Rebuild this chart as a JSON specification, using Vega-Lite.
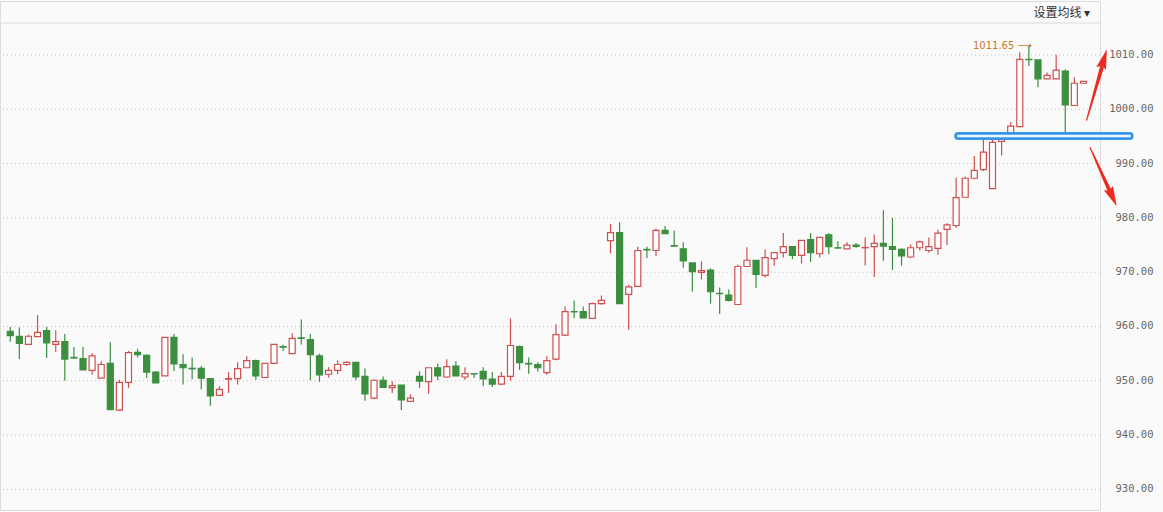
{
  "$schema": "https://vega.github.io/schema/vega-lite/v6.json",
  "width": 1100,
  "height": 509,
  "autosize": {"type": "none"},
  "padding": {"left": 0, "top": 1, "right": 63, "bottom": 2},
  "background": "#fafafa",
  "config": {"view": {"stroke": "#dddddd", "strokeWidth": 1}},
  "datasets": {
    "candles": [
      {"i":1,"o":959.1,"h":959.9,"l":957.2,"c":958.3},
      {"i":2,"o":958.2,"h":959.8,"l":954.0,"c":956.9},
      {"i":3,"o":956.7,"h":958.5,"l":956.6,"c":958.2},
      {"i":4,"o":958.15,"h":962.1,"l":958.1,"c":958.9},
      {"i":5,"o":959.25,"h":959.9,"l":954.2,"c":957.0},
      {"i":6,"o":956.7,"h":959.3,"l":955.3,"c":957.2},
      {"i":7,"o":957.2,"h":958.6,"l":950.0,"c":954.0},
      {"i":8,"o":954.3,"h":956.2,"l":954.1,"c":954.2},
      {"i":9,"o":954.1,"h":956.2,"l":952.0,"c":952.0},
      {"i":10,"o":951.9,"h":955.1,"l":951.1,"c":954.6},
      {"i":11,"o":950.5,"h":953.6,"l":950.5,"c":953.0},
      {"i":12,"o":953.2,"h":957.1,"l":944.7,"c":944.7},
      {"i":13,"o":944.6,"h":950.2,"l":944.5,"c":949.7},
      {"i":14,"o":949.7,"h":955.5,"l":948.7,"c":955.2},
      {"i":15,"o":955.25,"h":955.9,"l":954.3,"c":954.8},
      {"i":16,"o":954.7,"h":954.9,"l":950.5,"c":951.6},
      {"i":17,"o":951.6,"h":951.75,"l":949.6,"c":949.6},
      {"i":18,"o":950.9,"h":958.0,"l":950.9,"c":958.0},
      {"i":19,"o":958.0,"h":958.6,"l":951.8,"c":953.1},
      {"i":20,"o":953.0,"h":954.9,"l":949.3,"c":952.4},
      {"i":21,"o":952.3,"h":954.3,"l":950.3,"c":952.2},
      {"i":22,"o":952.3,"h":952.7,"l":948.4,"c":950.5},
      {"i":23,"o":950.4,"h":950.4,"l":945.4,"c":947.2},
      {"i":24,"o":947.3,"h":949.0,"l":947.3,"c":948.4},
      {"i":25,"o":950.3,"h":951.6,"l":947.75,"c":950.4},
      {"i":26,"o":950.4,"h":953.4,"l":949.3,"c":952.25},
      {"i":27,"o":952.4,"h":954.5,"l":952.4,"c":953.7},
      {"i":28,"o":953.7,"h":953.9,"l":950.2,"c":950.9},
      {"i":29,"o":950.6,"h":953.2,"l":950.6,"c":953.2},
      {"i":30,"o":953.2,"h":956.7,"l":953.2,"c":956.7},
      {"i":31,"o":956.3,"h":956.7,"l":955.5,"c":956.2},
      {"i":32,"o":955.0,"h":958.75,"l":955.0,"c":957.8},
      {"i":33,"o":957.9,"h":961.3,"l":956.7,"c":957.8},
      {"i":34,"o":957.6,"h":958.6,"l":950.1,"c":954.8},
      {"i":35,"o":954.6,"h":955.0,"l":949.8,"c":951.1},
      {"i":36,"o":951.2,"h":952.5,"l":950.6,"c":951.9},
      {"i":37,"o":951.9,"h":953.8,"l":951.2,"c":953.0},
      {"i":38,"o":953.0,"h":953.6,"l":952.7,"c":953.4},
      {"i":39,"o":953.4,"h":953.4,"l":950.1,"c":950.7},
      {"i":40,"o":950.8,"h":952.25,"l":946.3,"c":947.6},
      {"i":41,"o":946.8,"h":950.3,"l":946.6,"c":950.1},
      {"i":42,"o":950.1,"h":950.8,"l":948.75,"c":948.8},
      {"i":43,"o":948.75,"h":949.9,"l":947.75,"c":949.1},
      {"i":44,"o":949.2,"h":949.2,"l":944.6,"c":946.5},
      {"i":45,"o":946.2,"h":947.5,"l":946.2,"c":946.8},
      {"i":46,"o":950.8,"h":951.75,"l":948.7,"c":949.95},
      {"i":47,"o":949.85,"h":952.4,"l":947.6,"c":952.4},
      {"i":48,"o":952.4,"h":953.2,"l":950.15,"c":950.9},
      {"i":49,"o":950.7,"h":953.95,"l":950.5,"c":952.6},
      {"i":50,"o":952.7,"h":953.6,"l":950.9,"c":950.9},
      {"i":51,"o":950.7,"h":952.5,"l":950.15,"c":951.3},
      {"i":52,"o":951.3,"h":951.3,"l":950.5,"c":951.25},
      {"i":53,"o":951.75,"h":952.5,"l":949.0,"c":950.35},
      {"i":54,"o":950.3,"h":951.6,"l":948.85,"c":949.4},
      {"i":55,"o":949.4,"h":951.6,"l":949.2,"c":950.8},
      {"i":56,"o":950.8,"h":961.5,"l":950.0,"c":956.5},
      {"i":57,"o":956.3,"h":956.5,"l":952.0,"c":953.35},
      {"i":58,"o":953.2,"h":954.3,"l":951.3,"c":953.1},
      {"i":59,"o":953.0,"h":953.4,"l":951.7,"c":952.4},
      {"i":60,"o":951.5,"h":954.5,"l":951.1,"c":953.7},
      {"i":61,"o":954.0,"h":960.4,"l":953.8,"c":958.5},
      {"i":62,"o":958.4,"h":963.7,"l":958.25,"c":962.75},
      {"i":63,"o":962.75,"h":964.8,"l":961.5,"c":962.7},
      {"i":64,"o":962.75,"h":963.7,"l":961.6,"c":961.6},
      {"i":65,"o":961.5,"h":964.4,"l":961.5,"c":964.2},
      {"i":66,"o":964.2,"h":965.7,"l":964.0,"c":964.8},
      {"i":67,"o":975.8,"h":978.9,"l":973.45,"c":977.3},
      {"i":68,"o":977.3,"h":979.2,"l":964.2,"c":964.2},
      {"i":69,"o":965.9,"h":967.7,"l":959.4,"c":967.3},
      {"i":70,"o":967.4,"h":974.7,"l":967.4,"c":974.0},
      {"i":71,"o":974.2,"h":974.7,"l":972.6,"c":974.1},
      {"i":72,"o":974.0,"h":978.05,"l":973.0,"c":977.7},
      {"i":73,"o":977.7,"h":978.5,"l":977.1,"c":977.1},
      {"i":74,"o":974.9,"h":977.7,"l":974.8,"c":974.8},
      {"i":75,"o":974.3,"h":975.5,"l":970.8,"c":972.1},
      {"i":76,"o":971.7,"h":971.7,"l":966.4,"c":970.1},
      {"i":77,"o":969.95,"h":972.0,"l":968.65,"c":970.3},
      {"i":78,"o":970.4,"h":970.7,"l":964.2,"c":966.4},
      {"i":79,"o":966.1,"h":967.2,"l":962.3,"c":966.05},
      {"i":80,"o":965.8,"h":966.8,"l":964.6,"c":964.8},
      {"i":81,"o":964.05,"h":971.4,"l":964.05,"c":971.05},
      {"i":82,"o":971.05,"h":974.6,"l":971.05,"c":972.2},
      {"i":83,"o":972.2,"h":972.2,"l":967.1,"c":969.6},
      {"i":84,"o":969.4,"h":974.2,"l":969.0,"c":972.7},
      {"i":85,"o":972.5,"h":973.6,"l":971.2,"c":973.6},
      {"i":86,"o":973.6,"h":977.2,"l":972.7,"c":974.7},
      {"i":87,"o":974.7,"h":974.7,"l":972.4,"c":973.1},
      {"i":88,"o":973.1,"h":975.85,"l":971.6,"c":975.85},
      {"i":89,"o":976.0,"h":977.2,"l":971.9,"c":973.6},
      {"i":90,"o":973.4,"h":976.4,"l":972.7,"c":976.4},
      {"i":91,"o":976.9,"h":977.2,"l":973.3,"c":974.7},
      {"i":92,"o":974.5,"h":975.7,"l":974.3,"c":974.45},
      {"i":93,"o":974.3,"h":975.5,"l":974.3,"c":975.0},
      {"i":94,"o":975.0,"h":975.4,"l":974.5,"c":974.75},
      {"i":95,"o":974.5,"h":976.4,"l":971.25,"c":974.55},
      {"i":96,"o":974.7,"h":976.95,"l":969.1,"c":975.3},
      {"i":97,"o":975.3,"h":981.4,"l":972.1,"c":974.8},
      {"i":98,"o":974.7,"h":980.0,"l":970.4,"c":974.2},
      {"i":99,"o":974.2,"h":974.4,"l":971.2,"c":973.0},
      {"i":100,"o":972.8,"h":975.1,"l":972.6,"c":974.5},
      {"i":101,"o":974.5,"h":975.8,"l":974.0,"c":975.6},
      {"i":102,"o":974.0,"h":976.4,"l":973.6,"c":974.7},
      {"i":103,"o":974.4,"h":977.8,"l":973.2,"c":977.2},
      {"i":104,"o":977.9,"h":979.0,"l":975.0,"c":978.7},
      {"i":105,"o":978.6,"h":987.45,"l":978.2,"c":983.75},
      {"i":106,"o":983.8,"h":987.6,"l":983.8,"c":987.3},
      {"i":107,"o":987.3,"h":991.4,"l":987.1,"c":988.75},
      {"i":108,"o":988.9,"h":994.6,"l":988.6,"c":992.1},
      {"i":109,"o":985.4,"h":995.4,"l":985.4,"c":993.9},
      {"i":110,"o":994.1,"h":995.4,"l":991.5,"c":995.4},
      {"i":111,"o":995.4,"h":997.6,"l":995.25,"c":996.9},
      {"i":112,"o":996.8,"h":1010.5,"l":996.7,"c":1009.2},
      {"i":113,"o":1009.2,"h":1011.65,"l":1008.0,"c":1009.15},
      {"i":114,"o":1009.1,"h":1009.1,"l":1004.05,"c":1005.6},
      {"i":115,"o":1005.6,"h":1006.8,"l":1005.6,"c":1006.25},
      {"i":116,"o":1005.6,"h":1010.05,"l":1005.6,"c":1007.2},
      {"i":117,"o":1007.05,"h":1007.4,"l":994.95,"c":1000.8},
      {"i":118,"o":1000.7,"h":1005.9,"l":1000.7,"c":1004.8},
      {"i":119,"o":1004.8,"h":1005.15,"l":1004.8,"c":1005.15}
    ],
    "ticks": [
      {"p": 930, "i": 126.7},
      {"p": 940, "i": 126.7},
      {"p": 950, "i": 126.7},
      {"p": 960, "i": 126.7},
      {"p": 970, "i": 126.7},
      {"p": 980, "i": 126.7},
      {"p": 990, "i": 126.7},
      {"p": 1000, "i": 126.7},
      {"p": 1010, "i": 126.7}
    ],
    "topline": [{"p": 1015.9}],
    "band": [{"i": 105.23, "i2": 124.08, "p": 995.07}],
    "price": [{"i": 106.85, "p": 1011.65, "t": "1011.65 ⟶"}],
    "header": [{"i": 113.5, "p": 1017.74, "t": "设置均线 ▾"}],
    "shafts": [
      {"a": "up", "k": 1, "i": 119.35, "p": 998.0, "w": 1.2},
      {"a": "up", "k": 2, "i": 121.0, "p": 1007.6, "w": 4},
      {"a": "down", "k": 1, "i": 119.73, "p": 992.95, "w": 1.2},
      {"a": "down", "k": 2, "i": 121.9, "p": 984.9, "w": 4}
    ],
    "heads": [
      {"a": "up", "i": 121.26, "p": 1009.3, "ang": 16.5},
      {"a": "down", "i": 122.2, "p": 983.8, "ang": 155.5}
    ]
  },
  "layer": [
    {
      "data": {"name": "topline"},
      "mark": {"type": "rule", "color": "#dddddd", "strokeWidth": 1},
      "encoding": {
        "y": {"field": "p", "type": "quantitative", "scale": {"domain": [926.2, 1019.95], "nice": false, "zero": false}, "axis": null}
      }
    },
    {
      "data": {"name": "ticks"},
      "mark": {"type": "rule", "color": "#c4c4c4", "strokeWidth": 1, "strokeDash": [1, 3]},
      "encoding": {
        "y": {"field": "p", "type": "quantitative", "scale": {"domain": [926.2, 1019.95], "nice": false, "zero": false}, "axis": null}
      }
    },
    {
      "data": {"name": "ticks"},
      "mark": {"type": "text", "align": "right", "baseline": "middle", "font": "DejaVu Sans Mono", "fontSize": 10.5, "color": "#666666"},
      "encoding": {
        "x": {"field": "i", "type": "quantitative", "scale": {"domain": [0.4225, 120.27], "nice": false, "zero": false}, "axis": null},
        "y": {"field": "p", "type": "quantitative", "scale": {"domain": [926.2, 1019.95], "nice": false, "zero": false}, "axis": null},
        "text": {"field": "p", "type": "quantitative", "format": ".2f"}
      }
    },
    {
      "data": {"name": "candles"},
      "mark": {"type": "rule", "strokeWidth": 1.2},
      "encoding": {
        "x": {"field": "i", "type": "quantitative", "scale": {"domain": [0.4225, 120.27], "nice": false, "zero": false}, "axis": null},
        "y": {"field": "l", "type": "quantitative", "scale": {"domain": [926.2, 1019.95], "nice": false, "zero": false}, "axis": null},
        "y2": {"field": "h"},
        "color": {"condition": {"test": "datum.c >= datum.o", "value": "#d04f4f"}, "value": "#3b8f3f"}
      }
    },
    {
      "data": {"name": "candles"},
      "mark": {"type": "bar", "size": 6, "strokeWidth": 1.2},
      "encoding": {
        "x": {"field": "i", "type": "quantitative", "scale": {"domain": [0.4225, 120.27], "nice": false, "zero": false}, "axis": null},
        "y": {"field": "o", "type": "quantitative", "scale": {"domain": [926.2, 1019.95], "nice": false, "zero": false}, "axis": null},
        "y2": {"field": "c"},
        "fill": {"condition": {"test": "datum.c >= datum.o", "value": "#fdfdfd"}, "value": "#3b8f3f"},
        "stroke": {"condition": {"test": "datum.c >= datum.o", "value": "#d04f4f"}, "value": "#3b8f3f"}
      }
    },
    {
      "data": {"name": "band"},
      "mark": {"type": "rule", "color": "#3497ea", "strokeWidth": 8, "strokeCap": "round"},
      "encoding": {
        "x": {"field": "i", "type": "quantitative", "scale": {"domain": [0.4225, 120.27], "nice": false, "zero": false}, "axis": null},
        "x2": {"field": "i2"},
        "y": {"field": "p", "type": "quantitative", "scale": {"domain": [926.2, 1019.95], "nice": false, "zero": false}, "axis": null}
      }
    },
    {
      "data": {"name": "band"},
      "mark": {"type": "rule", "color": "#eef6fd", "strokeWidth": 2.5, "strokeCap": "round"},
      "encoding": {
        "x": {"field": "i", "type": "quantitative", "scale": {"domain": [0.4225, 120.27], "nice": false, "zero": false}, "axis": null},
        "x2": {"field": "i2"},
        "y": {"field": "p", "type": "quantitative", "scale": {"domain": [926.2, 1019.95], "nice": false, "zero": false}, "axis": null}
      }
    },
    {
      "data": {"name": "price"},
      "mark": {"type": "text", "align": "left", "baseline": "middle", "font": "DejaVu Sans", "fontSize": 10, "color": "#c8782d"},
      "encoding": {
        "x": {"field": "i", "type": "quantitative", "scale": {"domain": [0.4225, 120.27], "nice": false, "zero": false}, "axis": null},
        "y": {"field": "p", "type": "quantitative", "scale": {"domain": [926.2, 1019.95], "nice": false, "zero": false}, "axis": null},
        "text": {"field": "t"}
      }
    },
    {
      "data": {"name": "header"},
      "mark": {"type": "text", "align": "left", "baseline": "middle", "font": "Noto Sans CJK SC", "fontSize": 12, "color": "#333333"},
      "encoding": {
        "x": {"field": "i", "type": "quantitative", "scale": {"domain": [0.4225, 120.27], "nice": false, "zero": false}, "axis": null},
        "y": {"field": "p", "type": "quantitative", "scale": {"domain": [926.2, 1019.95], "nice": false, "zero": false}, "axis": null},
        "text": {"field": "t"}
      }
    },
    {
      "data": {"name": "shafts"},
      "mark": {"type": "trail", "color": "#ee2a1e"},
      "encoding": {
        "x": {"field": "i", "type": "quantitative", "scale": {"domain": [0.4225, 120.27], "nice": false, "zero": false}, "axis": null},
        "y": {"field": "p", "type": "quantitative", "scale": {"domain": [926.2, 1019.95], "nice": false, "zero": false}, "axis": null},
        "size": {"field": "w", "type": "quantitative", "scale": null, "legend": null},
        "detail": {"field": "a"},
        "order": {"field": "k"}
      }
    },
    {
      "data": {"name": "heads"},
      "mark": {"type": "point", "shape": "M0,-1L0.5,1L0,0.75L-0.5,1Z", "filled": true, "size": 400, "color": "#ee2a1e", "opacity": 1, "strokeWidth": 0},
      "encoding": {
        "x": {"field": "i", "type": "quantitative", "scale": {"domain": [0.4225, 120.27], "nice": false, "zero": false}, "axis": null},
        "y": {"field": "p", "type": "quantitative", "scale": {"domain": [926.2, 1019.95], "nice": false, "zero": false}, "axis": null},
        "angle": {"field": "ang", "type": "quantitative", "scale": null}
      }
    }
  ]
}
